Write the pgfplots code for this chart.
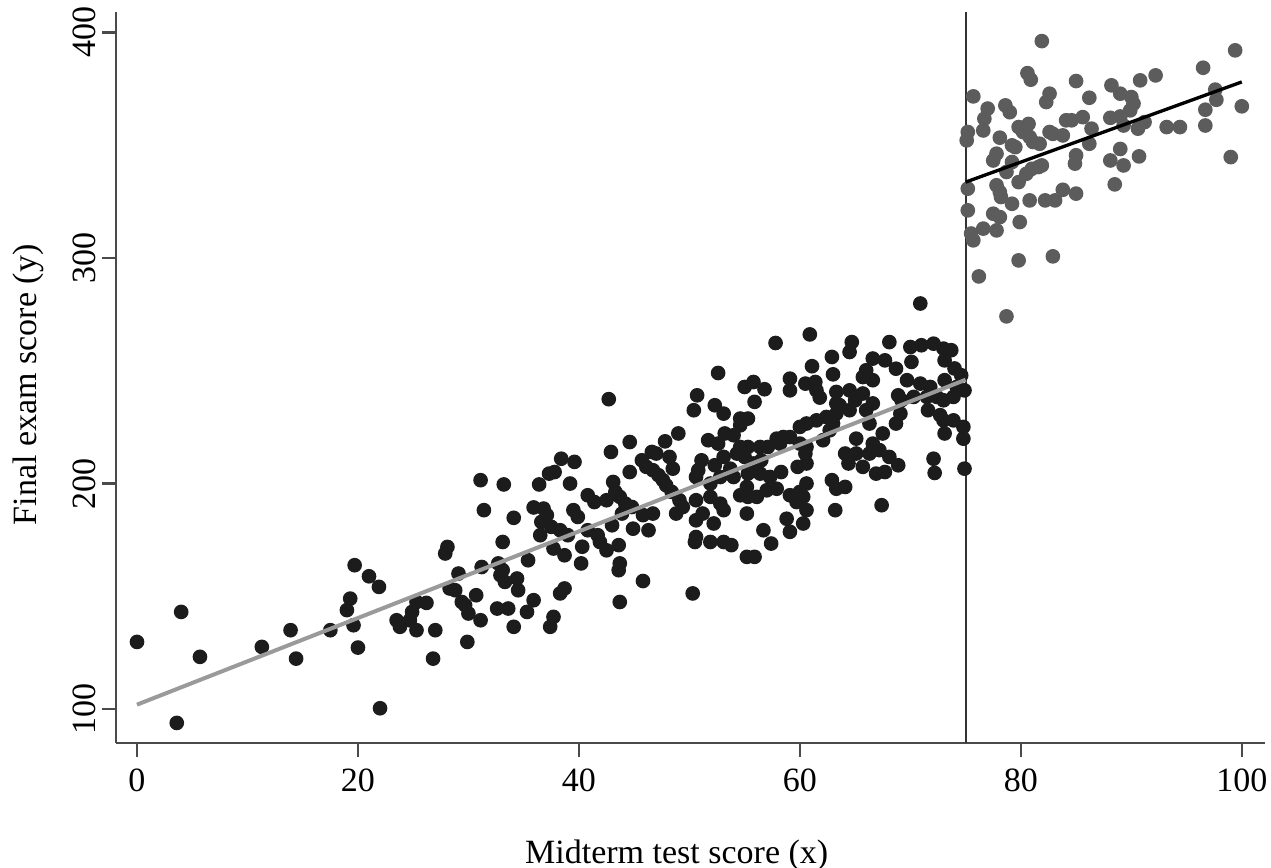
\documentclass[border=0pt]{standalone}
\usepackage{fontspec}
\setmainfont{Liberation Serif}
\usepackage{pgfplots}
\pgfplotsset{compat=1.18}
\definecolor{dotblack}{HTML}{1C1C1C}
\definecolor{dotgrey}{HTML}{5C5C5C}
\definecolor{fitgrey}{HTML}{9A9A9A}
\definecolor{axisgrey}{HTML}{4A4A4A}

% midterm (x) and final (y), below the cutoff at 75
\pgfplotstableread{
x y
0.0 129.8
4.0 143.1
5.7 123.2
3.6 93.9
11.3 127.6
13.9 135.0
14.4 122.4
17.5 135.0
19.0 143.9
19.3 149.0
19.7 163.8
21.0 158.9
21.9 154.2
19.6 137.2
20.0 127.3
22.0 100.4
26.8 122.4
31.1 201.5
33.2 199.6
36.4 199.6
37.3 204.4
31.4 188.2
34.1 184.8
35.9 189.4
36.8 188.9
37.1 186.0
36.6 183.0
36.5 177.1
33.1 174.1
28.1 171.9
27.9 169.0
35.4 166.0
29.1 160.1
31.2 163.0
32.7 164.6
33.1 161.6
32.9 159.4
33.3 156.4
34.4 157.9
34.5 152.7
28.3 153.5
28.8 152.7
25.3 147.5
26.2 147.1
24.9 143.1
24.7 139.4
23.5 139.4
23.8 136.5
25.3 135.0
27.0 135.0
29.4 147.5
29.7 146.1
30.7 150.5
30.0 142.4
31.1 139.4
32.6 144.6
33.6 144.6
35.9 148.3
35.3 143.1
34.1 136.5
29.9 129.8
37.4 136.5
42.7 237.4
50.7 239.1
50.4 232.5
49.0 222.2
47.8 218.7
44.6 218.4
42.9 214.0
46.6 214.0
47.0 213.3
48.2 211.8
48.5 206.6
45.7 210.3
46.1 207.4
46.7 205.9
47.2 203.7
47.6 201.5
47.9 199.2
48.4 196.3
49.1 192.6
49.4 189.6
48.8 186.7
44.6 205.1
38.4 211.0
39.6 209.6
37.8 205.1
39.2 200.0
43.1 200.7
43.3 196.3
40.8 194.8
41.4 191.8
42.5 192.6
43.7 194.1
44.2 191.1
44.8 189.6
43.9 186.7
45.8 186.0
46.7 186.7
39.5 188.2
39.9 185.2
37.5 180.8
38.3 179.3
39.0 177.1
40.8 179.3
41.7 177.1
41.9 174.1
43.0 181.5
44.9 180.0
46.3 179.3
50.6 192.6
50.6 176.3
50.5 174.1
37.7 171.2
40.3 172.0
42.5 170.4
43.6 172.7
38.7 168.2
40.2 164.6
43.7 164.6
43.6 161.6
45.8 156.8
38.7 153.5
38.3 151.3
43.7 147.5
50.3 151.3
37.7 140.9
60.9 266.1
57.8 262.3
62.9 256.1
61.1 252.0
63.0 248.4
52.6 249.0
59.1 246.5
60.5 244.3
61.4 245.0
61.5 241.3
61.8 238.1
59.1 241.3
55.0 242.8
55.8 245.0
56.8 241.8
55.9 236.2
52.3 234.7
53.1 231.0
54.6 228.8
55.3 228.8
54.6 225.8
53.2 222.2
54.0 221.4
51.7 219.2
52.6 217.7
54.6 216.2
55.3 216.2
56.4 216.2
57.1 216.2
57.9 219.9
58.5 220.6
59.1 220.6
60.0 225.1
60.6 226.6
61.5 228.0
62.4 229.5
63.3 231.0
63.3 240.6
63.3 235.5
62.7 223.6
62.1 219.2
60.6 216.2
60.0 217.7
58.2 217.7
51.1 210.3
50.8 205.9
50.6 202.9
52.3 208.1
53.1 211.8
54.3 213.3
55.0 211.8
55.8 208.9
56.5 210.3
53.7 206.6
52.8 202.9
51.9 200.0
54.0 202.9
55.3 204.4
56.4 204.4
57.3 202.9
58.3 205.1
59.8 207.4
60.6 208.9
60.5 213.3
60.6 200.0
60.0 196.3
55.2 198.5
55.3 194.1
54.6 194.8
56.1 194.1
57.0 197.0
57.9 197.7
59.1 194.8
59.7 191.8
60.3 194.1
51.9 194.1
52.8 191.1
53.1 188.2
51.2 186.7
50.6 183.7
52.2 182.3
55.2 186.7
58.8 184.4
60.3 182.3
59.1 178.6
56.7 179.3
60.6 188.2
62.9 201.5
63.2 188.2
51.9 174.1
53.1 174.1
53.8 172.7
57.4 173.4
55.2 167.5
55.9 167.5
70.9 279.8
64.7 262.7
64.5 258.3
68.1 262.7
70.0 260.5
71.0 261.3
72.1 262.0
73.0 259.8
73.7 259.1
73.1 254.6
74.0 251.0
74.6 248.0
66.6 255.4
67.7 254.6
68.7 250.9
66.0 250.2
65.7 247.2
66.6 245.8
70.1 253.9
69.7 245.8
70.9 244.3
71.8 242.8
73.1 245.8
74.2 242.8
74.9 241.3
73.9 238.4
73.0 236.9
63.6 234.7
64.5 241.3
65.0 236.9
65.7 239.9
66.6 235.5
66.0 232.5
64.5 232.5
63.0 226.6
68.9 239.1
69.2 236.9
70.3 238.4
71.5 238.4
72.4 238.4
71.6 232.5
69.1 231.0
68.7 226.6
66.3 226.6
72.7 230.3
73.0 228.0
73.9 228.0
74.8 225.1
73.1 222.2
74.8 219.9
65.1 219.9
67.5 222.2
66.6 217.7
67.2 214.8
66.3 213.3
68.1 211.8
68.9 208.1
65.7 207.4
66.9 204.4
67.7 205.1
64.1 213.3
64.4 208.9
63.3 197.7
64.1 198.5
72.1 211.0
72.2 204.7
74.9 206.6
67.4 190.4
65.1 213.3
}\lowtable

% above the cutoff
\pgfplotstableread{
x y
81.9 396.1
80.6 381.9
80.9 379.0
85.0 378.4
86.2 371.0
75.7 371.6
82.6 372.8
82.3 369.1
77.0 366.2
76.7 361.7
78.6 367.6
79.0 364.6
75.2 355.8
75.1 352.1
76.6 356.5
78.1 353.3
79.8 358.0
80.7 359.4
80.2 355.8
80.8 353.6
81.1 351.4
81.7 350.6
82.6 355.8
82.9 355.0
83.8 354.3
84.1 361.0
84.6 361.0
85.6 362.4
86.4 357.3
86.2 350.6
85.0 345.5
84.9 341.8
79.2 349.9
79.5 349.1
77.8 346.2
77.5 343.2
79.2 342.5
78.7 338.1
80.5 337.3
81.0 339.5
81.6 340.3
81.9 341.0
79.8 333.6
75.2 330.7
77.8 332.2
78.1 329.2
78.2 327.0
79.2 324.0
80.8 325.5
82.2 325.5
83.1 325.5
83.8 330.2
85.0 328.5
75.2 321.1
77.5 319.6
78.1 318.1
77.8 312.2
79.9 315.9
76.6 313.0
75.5 310.8
75.7 307.8
79.8 298.9
82.9 300.7
76.2 291.8
78.7 274.1
88.2 376.5
89.0 372.8
90.8 378.7
92.2 380.9
90.0 371.3
90.2 368.4
89.9 365.4
88.1 362.1
89.0 362.7
89.3 358.7
90.6 357.3
91.2 360.2
93.2 358.0
94.4 358.0
96.5 384.3
97.6 374.6
97.7 370.1
96.7 365.7
96.7 358.7
99.4 392.0
100.0 367.2
99.0 344.7
89.0 348.3
88.1 343.2
89.3 341.0
90.7 345.0
88.5 332.6
}\hightable

\begin{document}
\begin{tikzpicture}
\path[use as bounding box] (-34.8pt,-37.5pt) rectangle (346.5pt,222.9pt);
\begin{axis}[
  at={(0,0)}, anchor=south west,
  scale only axis, width=344.7pt, height=219.3pt,
  xmin=-1.9, xmax=102.1, ymin=85, ymax=409,
  axis x line*=bottom, axis y line*=left,
  axis line style={axisgrey, line width=0.75pt},
  xtick={0,20,...,100}, ytick={100,200,300,400},
  tick align=outside, major tick length=4.2pt,
  tick style={axisgrey, line width=0.75pt},
  font=\fontsize{10.2}{12}\selectfont,
  /pgf/number format/assume math mode=true,
  yticklabel style={rotate=90, anchor=south, inner sep=1.5pt},
  xlabel={Midterm test score (x)},
  ylabel={Final exam score (y)},
  xlabel style={at={(axis description cs:0.488,-0.153)}, anchor=center},
  ylabel style={at={(axis description cs:-0.0766,0.49)}, anchor=center},
  clip=false, clip marker paths=true]
\draw[black!80, line width=0.6pt] (axis cs:75,85) -- (axis cs:75,409);
\addplot[only marks, mark=*, mark size=2pt, color=dotblack]
  table {\lowtable};
\addplot[only marks, mark=*, mark size=2pt, color=dotgrey]
  table {\hightable};
\addplot[fitgrey, line width=1.2pt] coordinates {(0,102) (75,246)};
\addplot[black, line width=1pt] coordinates {(75,333.6) (100,378)};
\end{axis}
\end{tikzpicture}
\end{document}
